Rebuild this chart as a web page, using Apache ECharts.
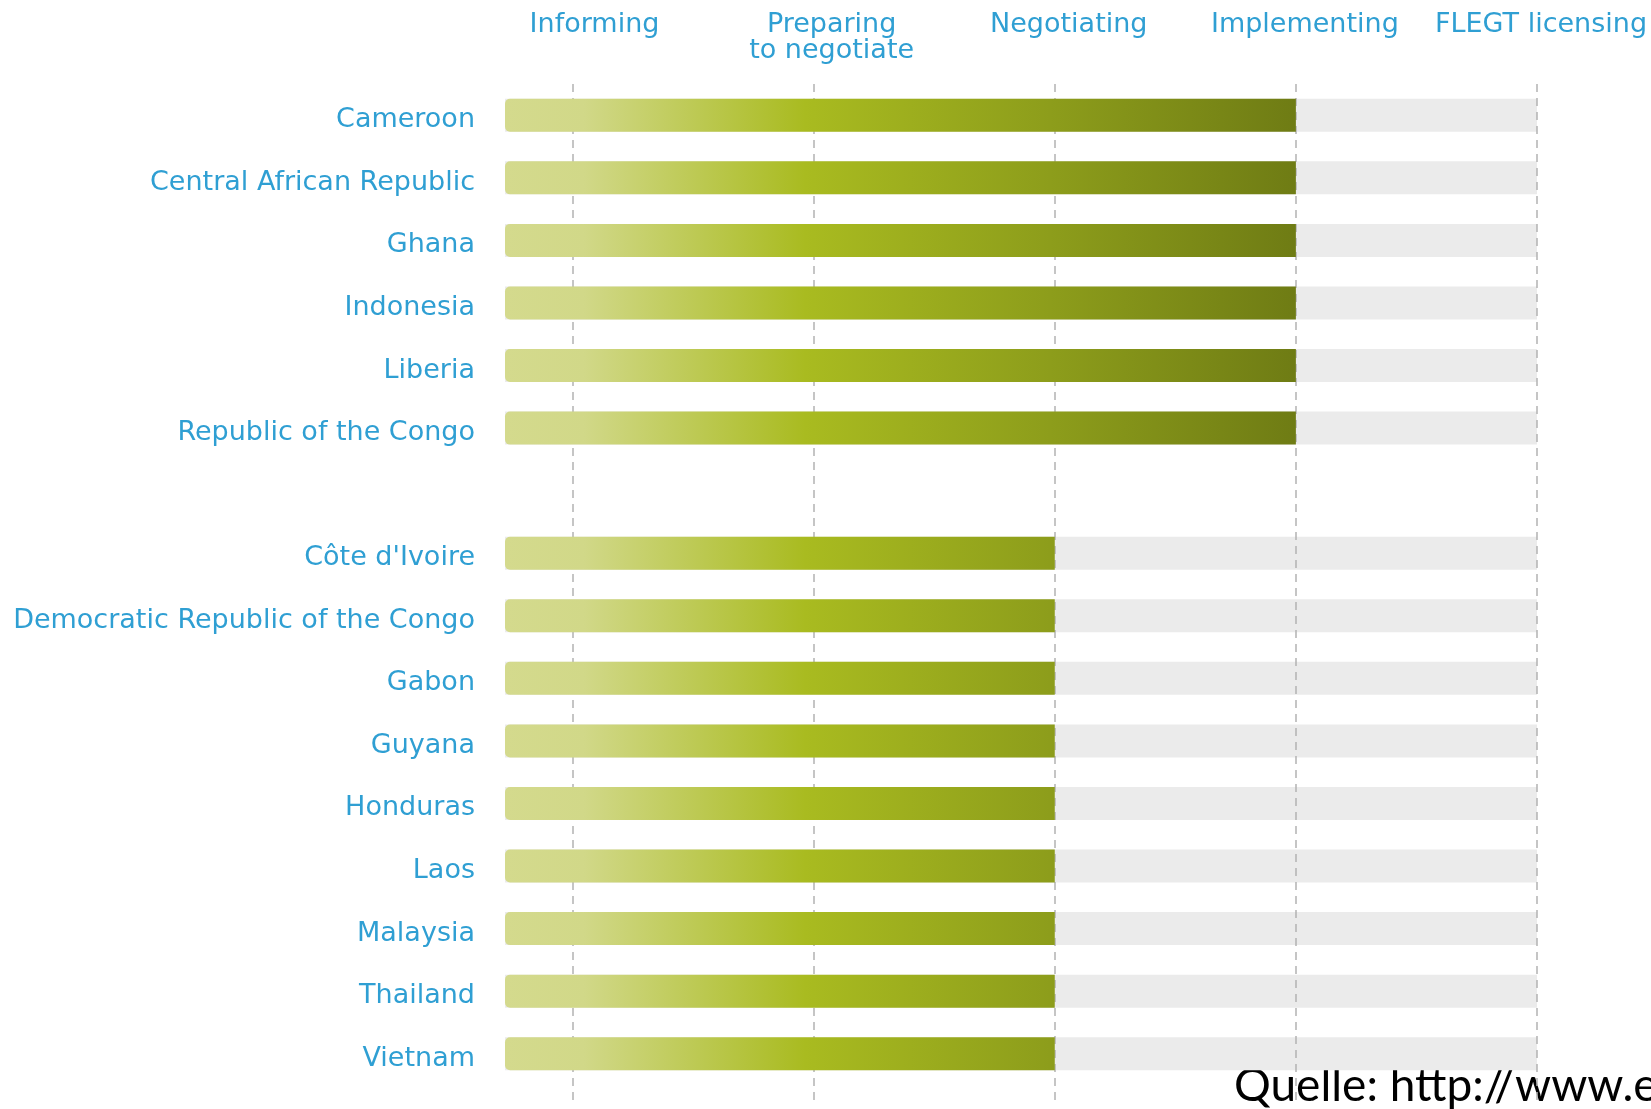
<!DOCTYPE html>
<html>
<head>
<meta charset="utf-8">
<script src="https://cdn.jsdelivr.net/npm/echarts@6/dist/echarts.min.js"></script>
<style>
  html, body { margin: 0; padding: 0; background: #fff; }
  #chart { width: 1651px; height: 1109px; }
</style>
</head>
<body>
<div id="chart"></div>
<script>
// Länder (leerer Eintrag = Abstand zwischen den Gruppen)
const countries = [
  'Cameroon', 'Central African Republic', 'Ghana', 'Indonesia', 'Liberia',
  'Republic of the Congo', '',
  "Côte d'Ivoire", 'Democratic Republic of the Congo', 'Gabon', 'Guyana',
  'Honduras', 'Laos', 'Malaysia', 'Thailand', 'Vietnam'
]
// erreichte Phase (1 = Informing ... 5 = FLEGT licensing)
const stageReached = [4, 4, 4, 4, 4, 4, '-', 3, 3, 3, 3, 3, 3, 3, 3, 3]
const stageMax = [5, 5, 5, 5, 5, 5, '-', 5, 5, 5, 5, 5, 5, 5, 5, 5]
const stageNames = ['Informing', 'Preparing\nto negotiate', 'Negotiating', 'Implementing', 'FLEGT licensing']
const stageTicks = [1, 2, 3, 4, 5]

const BLUE = '#2f9fd3'
const FONT = '"DejaVu Sans", Verdana, sans-serif'

const chart = echarts.init(document.getElementById('chart'))

// Verlauf über die ganze Breite (global), damit kurze Balken dunkler enden
const barGradient = new echarts.graphic.LinearGradient(505, 0, 1295, 0, [
  { offset: 0, color: '#d4da8d' },
  { offset: 0.1, color: '#d1d888' },
  { offset: 0.38, color: '#a9bb20' },
  { offset: 0.69, color: '#8d9d1b' },
  { offset: 1, color: '#6f7c14' }
], true)

// Kopfzeilen leicht nach rechts versetzt, wie im Original
const headRich = {}
const headShift = [44, 36, 28, 18, 8]
headShift.forEach((p, i) => {
  headRich['h' + i] = {
    color: BLUE,
    fontFamily: FONT,
    fontSize: 27,
    lineHeight: 26,
    padding: [0, 0, 0, p]
  }
})

const option = {
  animation: false,
  grid: [
    { left: 505, right: 114, top: 84, bottom: 24 },
    // nur für die gestrichelten Linien, reicht bis fast an den unteren Rand
    { left: 505, right: 114, top: 84, bottom: 3 }
  ],
  xAxis: [
    {
      type: 'value',
      gridIndex: 0,
      min: 0.72,
      max: 5,
      startValue: 0.72,
      axisLine: { show: false },
      axisTick: { show: false },
      axisLabel: { show: false },
      splitLine: { show: false }
    },
    {
      type: 'value',
      gridIndex: 0,
      position: 'top',
      min: 0.72,
      max: 5,
      axisLine: { show: false },
      axisTick: { show: false, customValues: stageTicks },
      splitLine: { show: false },
      axisLabel: {
        customValues: stageTicks,
        formatter: (v) => {
          const i = Math.round(v) - 1
          return stageNames[i].split('\n').map(s => `{h${i}|${s}}`).join('\n')
        },
        rich: headRich,
        verticalAlign: 'top',
        margin: 72
      }
    },
    {
      type: 'value',
      gridIndex: 1,
      min: 0.72,
      max: 5,
      z: 2,
      axisLine: { show: false },
      axisTick: { show: false, customValues: stageTicks },
      axisLabel: { show: false, customValues: stageTicks },
      splitLine: {
        show: true,
        lineStyle: { color: '#b3b3b3', width: 1.5, type: [8, 6] }
      }
    }
  ],
  yAxis: [
    {
      type: 'category',
      gridIndex: 0,
      inverse: true,
      data: countries,
      axisLine: { show: false },
      axisTick: { show: false },
      splitLine: { show: false },
      axisLabel: {
        color: BLUE,
        fontFamily: FONT,
        fontSize: 27,
        margin: 30,
        // Text sitzt etwas tiefer als die Balkenmitte
        verticalAlign: 'top',
        lineHeight: 10
      }
    },
    {
      type: 'value',
      gridIndex: 1,
      show: false,
      splitLine: { show: false }
    }
  ],
  series: [
    {
      // grauer Hintergrund bis FLEGT licensing
      name: 'max',
      type: 'bar',
      z: 1,
      barWidth: 33,
      data: stageMax,
      itemStyle: { color: '#ebebeb' }
    },
    {
      name: 'stage',
      type: 'bar',
      z: 3,
      barWidth: 33,
      barGap: '-100%',
      data: stageReached,
      itemStyle: { color: barGradient, borderRadius: [5, 0, 0, 5] }
    }
  ],
  graphic: [
    {
      type: 'text',
      x: 1234,
      y: 1086,
      style: {
        text: 'Quelle: http://www.e',
        font: '46px Lato, "Open Sans", sans-serif',
        fill: '#000',
        verticalAlign: 'middle'
      }
    }
  ]
}

chart.setOption(option)
</script>
</body>
</html>
